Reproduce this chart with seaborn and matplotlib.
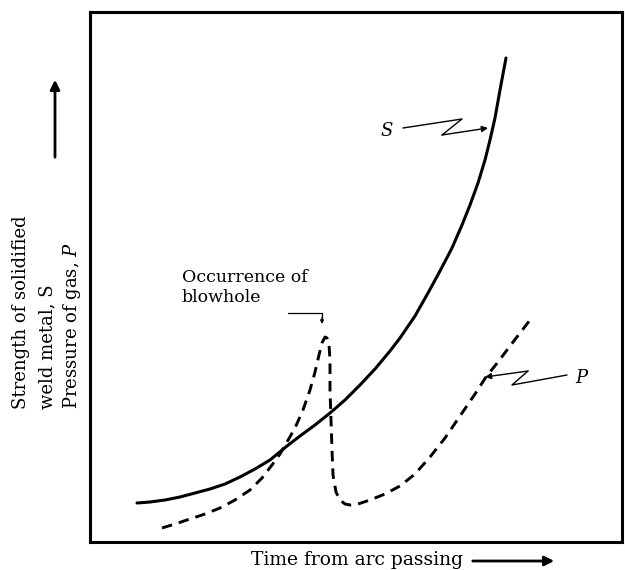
import matplotlib
matplotlib.use("Agg")
import matplotlib.pyplot as plt
import seaborn as sns
import pandas as pd

# ---- data (arbitrary units) ----
time_S = [47, 60, 75, 90, 105, 120, 135, 150, 165, 180, 197, 210, 225, 240, 255,
          270, 285, 300, 310, 325, 338, 350, 362, 372, 380, 388, 395, 400, 405,
          410, 416]
strength_S = [39, 40, 42, 45, 49, 53, 58, 65, 73, 82, 96, 106, 117, 129, 142,
              157, 173, 191, 204, 226, 249, 271, 294, 317, 337, 359, 382, 402,
              424, 452, 484]

time_P = [72, 85, 100, 115, 130, 145, 160, 172, 182, 190, 197, 205, 213, 220,
          225, 229, 232, 235, 237, 239, 240, 240, 241, 242, 243, 246, 250, 255,
          260, 268, 280, 295, 310, 325, 340, 355, 370, 385, 396, 408, 420, 430,
          440]
pressure_P = [14, 18, 23, 28, 34, 42, 52, 64, 77, 88, 100, 114, 132, 152, 170,
              187, 199, 205, 204, 197, 182, 152, 122, 92, 67, 50, 42, 38, 37, 38,
              42, 48, 56, 68, 85, 104, 126, 148, 165, 180, 196, 209, 222]

y_label_lines = ["Strength of solidified", "weld metal, S", "Pressure of gas, $P$"]
x_label = "Time from arc passing"
blowhole_text = "Occurrence of\nblowhole"

df_S = pd.DataFrame({"time": time_S, "value": strength_S})
df_P = pd.DataFrame({"time": time_P, "value": pressure_P})

sns.set_style("white")
plt.rcParams["font.family"] = ["DejaVu Serif"]
plt.rcParams["mathtext.fontset"] = "dejavuserif"
plt.rcParams["text.color"] = "black"

fig = plt.figure(figsize=(6.25, 5.7), dpi=100)
ax = fig.add_axes([90 / 625, 28 / 570, 532 / 625, 530 / 570])

sns.lineplot(data=df_S, x="time", y="value", sort=False, estimator=None,
             color="black", linewidth=2.2, ax=ax)
sns.lineplot(data=df_P, x="time", y="value", sort=False, estimator=None,
             color="black", linewidth=2.1, linestyle=(0, (3.6, 2.4)), ax=ax)

ax.set_xlim(0, 532)
ax.set_ylim(0, 530)
ax.set_xticks([])
ax.set_yticks([])
ax.set_xlabel("")
ax.set_ylabel("")
for sp in ax.spines.values():
    sp.set_visible(True)
    sp.set_color("black")
    sp.set_linewidth(2.2)

arrow_kw = dict(arrowstyle="-|>", color="black", lw=1.0, mutation_scale=9,
                shrinkA=0, shrinkB=0)

# S leader
ax.plot([313, 372, 352], [414, 423, 407], color="black", lw=1.0)
ax.annotate("", xy=(398, 414), xytext=(352, 407), arrowprops=arrow_kw)
ax.text(297, 411, "S", fontsize=13, fontstyle="italic", ha="center", va="center")

# P leader
ax.plot([477, 422, 438], [167, 157, 171], color="black", lw=1.0)
ax.annotate("", xy=(395, 165), xytext=(438, 171), arrowprops=arrow_kw)
ax.text(491, 164, "P", fontsize=13, fontstyle="italic", ha="center", va="center")

# blowhole bracket
ax.plot([198, 232, 232], [229, 229, 224], color="black", lw=0.9)
ax.annotate("", xy=(232, 218), xytext=(232, 225),
            arrowprops=dict(arrowstyle="-|>", color="black", lw=0.9,
                            mutation_scale=5, shrinkA=0, shrinkB=0))
ax.text(92, 273, blowhole_text, fontsize=12.5, ha="left", va="top",
        linespacing=1.2)

# y label lines and arrow (figure pixels)
for xpos, line in zip([21, 47, 72], y_label_lines):
    fig.text(xpos / 625, 161 / 570, line, rotation=90, ha="center", va="bottom",
             fontsize=13)
fig.add_artist(matplotlib.patches.FancyArrowPatch(
    (55 / 625, 410 / 570), (55 / 625, 493 / 570), transform=fig.transFigure,
    arrowstyle="-|>", mutation_scale=14, color="black", lw=2.0))

# x label and arrow
fig.text(357 / 625, 10 / 570, x_label, ha="center", va="center", fontsize=13.5)
fig.add_artist(matplotlib.patches.FancyArrowPatch(
    (470 / 625, 9 / 570), (557 / 625, 9 / 570), transform=fig.transFigure,
    arrowstyle="-|>", mutation_scale=14, color="black", lw=2.0))

fig.savefig("out.png", dpi=100)
